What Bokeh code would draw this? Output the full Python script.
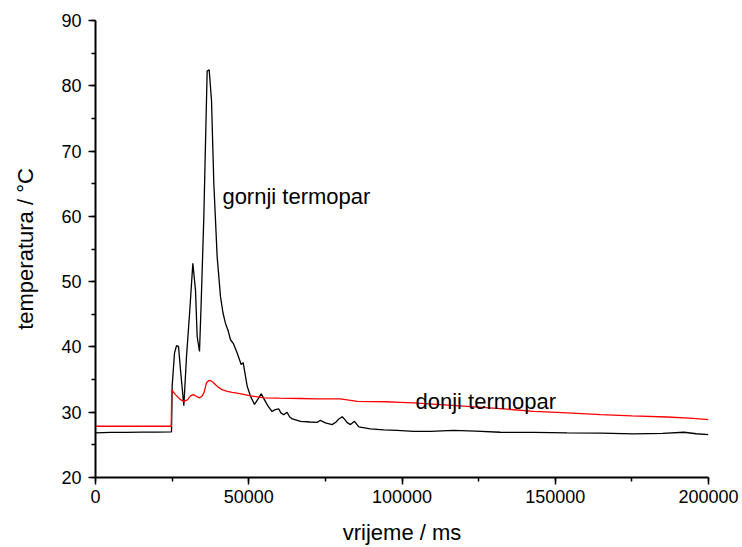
from bokeh.plotting import figure
from bokeh.models import Range1d, SingleIntervalTicker, BasicTickFormatter, Label
from bokeh.embed import file_html
from bokeh.resources import INLINE

# upper thermocouple (gornji termopar)
t_upper = [0, 5000, 10000, 15000, 20000, 24800, 25014, 25775, 26427, 27080, 27732,
           28820, 29690, 30777, 31756, 32626, 33170, 33931, 34475, 35345, 35889,
           36433, 37085, 37847, 38608, 39696, 40783, 41600, 42414, 43200, 44046,
           45000, 46221, 47526, 48178, 49483, 50600, 51875, 53000, 54100, 55000,
           56200, 57600, 58600, 59800, 60500, 61400, 62500, 63300, 64200, 66900,
           70000, 72300, 73400, 75000, 77200, 78500, 79400, 80500, 81300, 82100,
           83200, 84500, 85900, 89700, 94000, 98400, 103800, 109300, 116900,
           124000, 132100, 143000, 153900, 165000, 175600, 185000, 192000, 196000,
           200000]
T_upper = [26.85, 26.9, 26.9, 26.95, 26.95, 27.0, 34.0, 39.06, 40.18, 40.1, 36.5,
           31.0, 38.5, 45.7, 52.8, 48.7, 41.6, 39.3, 46.7, 59.9, 71.2,
           82.25, 82.45, 77.8, 65.0, 53.8, 47.7, 45.2, 43.6, 42.6, 41.1,
           40.5, 39.06, 37.3, 37.6, 34.0, 32.4, 31.2, 32.0, 32.84, 32.0,
           31.0, 30.1, 30.4, 30.5, 29.9, 29.6, 30.0, 29.3, 28.97, 28.6,
           28.5, 28.45, 28.76, 28.36, 28.1, 28.5, 28.97, 29.3, 28.9, 28.4,
           28.1, 28.6, 27.75, 27.44, 27.3, 27.23, 27.08, 27.08, 27.23,
           27.1, 26.93, 26.9, 26.83, 26.8, 26.67, 26.75, 26.93, 26.7,
           26.57]

# lower thermocouple (donji termopar)
t_lower = [0, 24700, 24900, 26100, 27500, 28800, 30000, 31000, 31900, 33000, 34000,
           34800, 35400, 36200, 37000, 37500, 38300, 39150, 40200, 41300, 43000,
           44600, 47500, 50600, 54900, 60000, 66900, 72000, 79900, 85400, 95000,
           99500, 103900, 110000, 121300, 132000, 143000, 154000, 164800, 175000,
           186500, 195000, 200000]
T_lower = [27.85, 27.85, 33.4, 32.7, 32.0, 31.67, 31.9, 32.5, 32.7, 32.4, 32.2,
           32.5, 33.0, 34.5, 34.85, 34.87, 34.6, 34.2, 33.8, 33.45, 33.2,
           33.05, 32.8, 32.5, 32.2, 32.15, 32.1, 32.05, 32.03, 31.67, 31.6,
           31.51, 31.42, 31.25, 30.9, 30.55, 30.14, 29.9, 29.63, 29.45,
           29.27, 29.05, 28.87]

x_title = "vrijeme / ms"
y_title = "temperatura / °C"
label_upper = "gornji termopar"
label_lower = "donji termopar"
label_upper_pos = (41400, 63.0)
label_lower_pos = (104400, 31.7)

FONT = "Liberation Sans"

p = figure(width=742, height=547, output_backend="svg", toolbar_location=None,
           x_range=Range1d(0, 200000), y_range=Range1d(20, 90),
           min_border_left=95, min_border_right=34, min_border_top=20,
           min_border_bottom=69)
p.outline_line_color = None
p.grid.visible = False
p.background_fill_color = "white"
p.border_fill_color = "white"

p.line(t_upper, T_upper, line_color="black", line_width=1.3)
p.line(t_lower, T_lower, line_color="#ff0000", line_width=1.3)

p.xaxis.ticker = SingleIntervalTicker(interval=50000, num_minor_ticks=2)
p.yaxis.ticker = SingleIntervalTicker(interval=10, num_minor_ticks=2)
p.xaxis.formatter = BasicTickFormatter(use_scientific=False)

for ax in (p.xaxis, p.yaxis):
    ax.axis_line_color = "black"
    ax.axis_line_width = 2
    ax.major_tick_line_color = "black"
    ax.major_tick_line_width = 1.5
    ax.minor_tick_line_color = "black"
    ax.minor_tick_line_width = 1.5
    ax.major_tick_in = 0
    ax.major_tick_out = 7
    ax.minor_tick_in = 0
    ax.minor_tick_out = 4
    ax.major_label_text_font = FONT
    ax.major_label_text_font_size = "18px"
    ax.major_label_text_color = "black"
    ax.axis_label_text_font = FONT
    ax.axis_label_text_font_size = "22px"
    ax.axis_label_text_font_style = "normal"
    ax.axis_label_text_color = "black"

p.xaxis.axis_label = x_title
p.yaxis.axis_label = y_title
p.xaxis.major_label_standoff = 5
p.xaxis.axis_label_standoff = 14
p.yaxis.major_label_standoff = 7
p.yaxis.axis_label_standoff = 20

p.add_layout(Label(x=label_upper_pos[0], y=label_upper_pos[1], text=label_upper,
                   text_font=FONT, text_font_size="22px", text_color="black",
                   text_baseline="alphabetic", text_align="left"))
p.add_layout(Label(x=label_lower_pos[0], y=label_lower_pos[1], text=label_lower,
                   text_font=FONT, text_font_size="22px", text_color="black",
                   text_baseline="alphabetic", text_align="left"))

open("out.html", "w").write(file_html(p, INLINE))
